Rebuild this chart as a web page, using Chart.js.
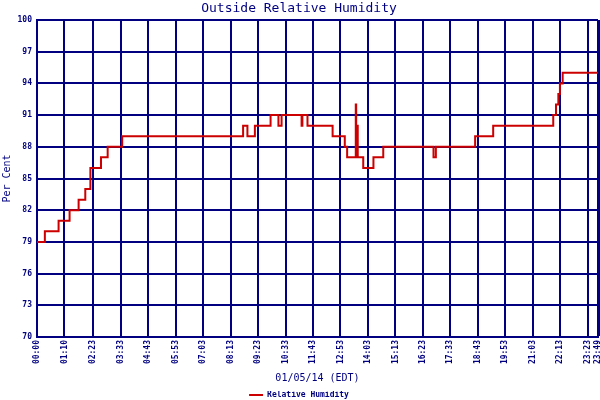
<!DOCTYPE html>
<html>
<head>
<meta charset="utf-8">
<title>Outside Relative Humidity</title>
<script src="https://cdn.jsdelivr.net/npm/chart.js@4/dist/chart.umd.min.js"></script>
<style>
  html, body { margin: 0; padding: 0; background: #ffffff; }
  #wrap { width: 600px; height: 400px; }
</style>
</head>
<body>
<div id="wrap"><canvas id="humChart" width="600" height="400"></canvas></div>
<script>
// minutes after midnight where the reading changes, and the new reading
var changeMinutes = [0, 20, 55, 83, 106, 123, 136, 163, 180, 217,
  525, 536, 555, 595, 615, 623, 674, 676, 689, 753,
  784, 790, 812, 813, 816, 817, 831, 857, 882, 1010,
  1016, 1116, 1162, 1315, 1322, 1328, 1332, 1339, 1429];
var humidity = [79, 80, 81, 82, 83, 84, 86, 87, 88, 89,
  90, 89, 90, 91, 90, 91, 90, 91, 90, 89,
  88, 87, 92, 87, 90, 87, 86, 87, 88, 87,
  88, 89, 90, 91, 92, 93, 94, 95, 95];

// x axis ticks (minutes) and their labels
var tickMinutes = [0, 70, 143, 213, 283, 353, 423, 493, 563, 633, 703,
  773, 843, 913, 983, 1053, 1123, 1193, 1263, 1333, 1403, 1429];
var tickLabels = ["00:00", "01:10", "02:23", "03:33", "04:43", "05:53", "07:03",
  "08:13", "09:23", "10:33", "11:43", "12:53", "14:03", "15:13", "16:23",
  "17:33", "18:43", "19:53", "21:03", "22:13", "23:23", "23:49"];

var navy = "#000080";
var red = "#cc0000";
var mono = "'DejaVu Sans Mono', monospace";

var points = [];
for (var i = 0; i < changeMinutes.length; i++) {
  points.push({ x: changeMinutes[i], y: humidity[i] });
}

var ctx = document.getElementById("humChart");
var myChart = new Chart(ctx, {
  type: "line",
  data: {
    datasets: [
      {
        label: "Relative Humidity",
        data: points,
        borderColor: red,
        backgroundColor: red,
        borderWidth: 2,
        pointRadius: 0,
        stepped: true,
        fill: false,
      },
    ],
  },
  options: {
    responsive: false,
    animation: false,
    layout: { padding: { top: 0, right: 2, bottom: -9, left: 0 } },
    plugins: {
      tooltip: { enabled: false },
      title: {
        display: true,
        text: "Outside Relative Humidity",
        color: navy,
        font: { family: mono, size: 13, weight: "normal" },
        padding: { top: 1, bottom: 3.4 },
      },
      legend: {
        display: true,
        position: "bottom",
        labels: {
          color: navy,
          font: { family: mono, size: 8, weight: "bold" },
          usePointStyle: true,
          pointStyle: "line",
          pointStyleWidth: 14,
          padding: 0,
        },
      },
    },
    scales: {
      x: {
        type: "linear",
        min: 0,
        max: 1429,
        afterBuildTicks: function (scale) {
          scale.ticks = tickMinutes.map(function (v) { return { value: v }; });
        },
        afterFit: function (scale) {
          scale.height = 54;
          scale.paddingLeft = 0;
          scale.paddingRight = 0;
        },
        ticks: {
          autoSkip: false,
          minRotation: 90,
          maxRotation: 90,
          padding: 3,
          color: navy,
          font: { family: mono, size: 8, weight: "bold" },
          callback: function (value, index) { return tickLabels[index]; },
        },
        grid: {
          color: navy,
          lineWidth: function (c) { return c.index === tickMinutes.length - 1 ? 3 : 2; },
          drawTicks: false,
        },
        border: { display: true, color: navy, width: 2 },
        title: {
          display: true,
          text: "01/05/14 (EDT)",
          color: navy,
          font: { family: mono, size: 10, weight: "normal" },
          padding: { top: 0, bottom: 7 },
        },
      },
      y: {
        min: 70,
        max: 100,
        afterFit: function (scale) { scale.width = 37; },
        ticks: {
          stepSize: 3,
          padding: 5,
          color: navy,
          font: { family: mono, size: 8, weight: "bold" },
        },
        grid: { color: navy, lineWidth: 2, drawTicks: false },
        border: { display: true, color: navy, width: 2 },
        title: {
          display: true,
          text: "Per Cent",
          color: navy,
          font: { family: mono, size: 10, weight: "normal" },
          padding: { top: 1, bottom: 0 },
        },
      },
    },
  },
});
</script>
</body>
</html>
